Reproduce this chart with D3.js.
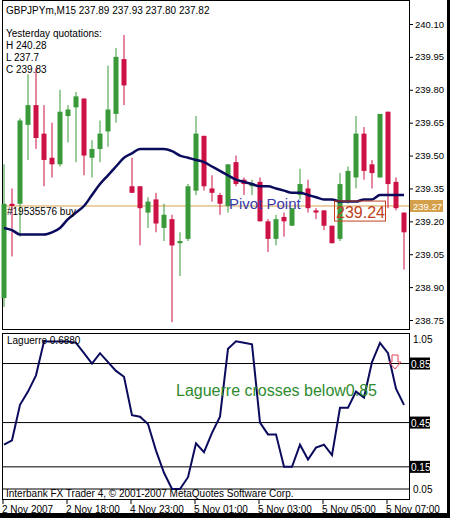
<!DOCTYPE html>
<html><head><meta charset="utf-8">
<script src="https://cdn.jsdelivr.net/npm/d3@7"></script>
<style>body{margin:0;background:#fff}text{font-family:"Liberation Sans",Arial,sans-serif}</style>
</head><body>
<script>
// candles: open, high, low, close
const opens  = [238.85,239.28,239.28,239.64,239.73,239.60,239.49,239.46,239.68,239.72,239.76,239.49,239.53,239.61,239.69,239.94,239.36,239.36,239.24,239.30,239.17,239.21,239.10,239.12,239.34,239.59,239.35,239.32,239.27,239.47,239.39,239.36,239.38,239.20,239.12,239.22,239.18,239.32,239.35,239.25,239.25,239.18,239.12,239.29,239.40,239.60,239.46,239.40,239.70,239.38,239.24];
const highs  = [239.46,239.35,239.67,239.87,239.90,239.73,239.65,239.80,239.73,239.79,239.76,239.57,239.66,239.91,239.99,240.05,239.49,239.36,239.31,239.33,239.28,239.23,239.15,239.37,239.68,239.59,239.41,239.33,239.46,239.50,239.40,239.39,239.40,239.21,239.23,239.24,239.26,239.44,239.39,239.26,239.25,239.18,239.42,239.45,239.68,239.63,239.48,239.69,239.70,239.40,239.24];
const lows   = [238.81,239.04,239.13,239.48,239.53,239.36,239.40,239.45,239.56,239.47,239.41,239.40,239.47,239.54,239.65,239.73,239.33,239.09,239.17,239.15,239.11,238.74,238.95,239.11,239.32,239.34,239.29,239.23,239.24,239.36,239.32,239.32,239.20,239.06,239.09,239.13,239.18,239.30,239.24,239.21,239.16,239.10,239.11,239.28,239.35,239.39,239.35,239.40,239.26,239.25,238.98];
const closes = [239.28,239.27,239.66,239.73,239.58,239.48,239.46,239.70,239.71,239.77,239.50,239.53,239.60,239.71,239.95,239.82,239.33,239.26,239.29,239.19,239.23,239.09,239.11,239.36,239.60,239.36,239.33,239.28,239.46,239.37,239.37,239.37,239.20,239.12,239.21,239.20,239.26,239.37,239.26,239.24,239.18,239.10,239.37,239.43,239.60,239.43,239.42,239.69,239.37,239.26,239.15];
const maValues = [239.17,239.16,239.14,239.14,239.14,239.14,239.15,239.17,239.21,239.24,239.27,239.32,239.37,239.41,239.45,239.49,239.51,239.53,239.53,239.53,239.53,239.52,239.50,239.49,239.48,239.47,239.45,239.43,239.41,239.39,239.38,239.37,239.36,239.36,239.35,239.34,239.33,239.33,239.32,239.31,239.30,239.30,239.29,239.29,239.29,239.30,239.30,239.32,239.32,239.32,239.32];
const laguerre = [0.30,0.33,0.57,0.66,0.77,1.00,1.00,1.00,1.00,0.99,0.92,0.85,0.92,0.86,0.80,0.76,0.50,0.49,0.44,0.26,0.11,0.00,0.00,0.08,0.31,0.25,0.38,0.49,0.95,1.00,0.99,0.98,0.45,0.37,0.37,0.15,0.15,0.30,0.20,0.28,0.30,0.23,0.55,0.55,0.66,0.62,0.86,0.99,0.92,0.68,0.57];
const priceTicks = [240.10,239.95,239.80,239.65,239.50,239.35,239.20,239.05,238.90,238.75];
const lagLevels = [0.85,0.45,0.15];
const timeLabels = ["2 Nov 2007","2 Nov 18:00","4 Nov 23:00","5 Nov 01:00","5 Nov 03:00","5 Nov 05:00","5 Nov 07:00"];
const timeIdx = [0,8,16,24,32,40,48];
const currentPrice = 239.27, pivot = 239.24;

const W = 450, H = 518, plotR = 409;
const svg = d3.select("body").append("svg").attr("width", W).attr("height", H);
svg.append("rect").attr("width", W).attr("height", H).attr("fill", "#fff");

const x = d3.scaleLinear().domain([0, 50]).range([4, 404]);
const y = d3.scaleLinear().domain([238.75, 240.10]).range([320, 24]);
const yl = d3.scaleLinear().domain([0, 1.05]).range([489, 334]);

// frames
svg.append("rect").attr("x", 2.5).attr("y", 0.5).attr("width", plotR - 2).attr("height", 329).attr("fill", "none").attr("stroke", "#000");
svg.append("rect").attr("x", 2.5).attr("y", 333.5).attr("width", plotR - 2).attr("height", 166).attr("fill", "none").attr("stroke", "#000");
svg.append("rect").attr("x", 447).attr("y", 0).attr("width", 3).attr("height", H).attr("fill", "#000");
svg.append("rect").attr("x", 0).attr("y", 513).attr("width", W).attr("height", 5).attr("fill", "#000");

// current price line
svg.append("line").attr("x1", 3).attr("x2", plotR).attr("y1", y(currentPrice)).attr("y2", y(currentPrice))
  .attr("stroke", "#d4a04a").attr("stroke-width", 1);

// candles
const cw = 5;
const up = (i) => closes[i] >= opens[i];
const cg = svg.append("g");
d3.range(opens.length).forEach(i => {
  const col = up(i) ? "#3a9a3a" : "#cc1144";
  cg.append("line").attr("x1", x(i)).attr("x2", x(i)).attr("y1", y(highs[i])).attr("y2", y(lows[i])).attr("stroke", col);
  const t = y(Math.max(opens[i], closes[i])), b = y(Math.min(opens[i], closes[i]));
  cg.append("rect").attr("x", x(i) - cw / 2).attr("y", t).attr("width", cw).attr("height", Math.max(2, b - t)).attr("fill", col);
});

// moving average
svg.append("path").datum(maValues)
  .attr("d", d3.line().x((d, i) => x(i)).y(d => y(d)).curve(d3.curveMonotoneX))
  .attr("fill", "none").attr("stroke", "#0b0b5e").attr("stroke-width", 2.5);

// price axis
const pa = svg.append("g").attr("transform", `translate(${plotR},0)`)
  .call(d3.axisRight(y).tickValues(priceTicks).tickSize(4).tickFormat(d3.format(".2f")));
pa.select(".domain").remove();
pa.selectAll("text").attr("font-size", 9.5).attr("x", 6).style("font-family", "Liberation Sans");
svg.append("rect").attr("x", plotR + 1).attr("y", y(currentPrice) - 6).attr("width", 33).attr("height", 12).attr("fill", "#d4a04a");
svg.append("text").attr("x", plotR + 4).attr("y", y(currentPrice) + 4).attr("font-size", 9.5).attr("fill", "#fff").text(d3.format(".2f")(currentPrice));

// texts on main pane
const t9 = (tx, ty, s, size = 10, fill = "#000") => svg.append("text").attr("x", tx).attr("y", ty).attr("font-size", size).attr("fill", fill).text(s);
t9(6, 14, "GBPJPYm,M15  237.89 237.93 237.80 237.82");
t9(6, 37, "Yesterday quotations:");
t9(6, 49, "H 240.28");
t9(6, 61, "L 237.7");
t9(6, 73, "C 239.83");
t9(7, 215, "#19535576 buy");
t9(229, 209, "Pivot Point", 15, "#3838a8");
svg.append("rect").attr("x", 334.5).attr("y", y(pivot) - 11.5).attr("width", 51).attr("height", 20).attr("fill", "none").attr("stroke", "#c04020");
t9(336, y(pivot) + 5, d3.format(".2f")(pivot), 16, "#c04020");

// laguerre pane
lagLevels.concat([0]).forEach(v => svg.append("line").attr("x1", 3).attr("x2", plotR).attr("y1", yl(v)).attr("y2", yl(v)).attr("stroke", "#000"));
svg.append("path").datum(laguerre)
  .attr("d", d3.line().x((d, i) => x(i)).y(d => yl(d)))
  .attr("fill", "none").attr("stroke", "#0b0b5e").attr("stroke-width", 2);
t9(plotR + 4, yl(1.05) + 9, "1.05");
lagLevels.forEach(v => {
  svg.append("rect").attr("x", plotR + 1).attr("y", yl(v) - 6).attr("width", 20).attr("height", 12).attr("fill", "#000");
  t9(plotR + 2, yl(v) + 4, d3.format(".2f")(v)).attr("fill", "#fff");
});
t9(plotR + 4, yl(0) + 4, "0.05");
t9(7, 344, "Laguerre 0.6880");
t9(176, 396, "Laguerre crosses below0.85", 16, "#2e8b2e");
t9(6, 497, "Interbank FX Trader 4, © 2001-2007 MetaQuotes Software Corp.", 10);
// sell arrow
const ax = 395, ay = 355;
svg.append("path").attr("d", `M${ax - 3},${ay} h6 v7 h3 l-6,7 l-6,-7 h3 z`).attr("fill", "none").attr("stroke", "#e04050");

// time axis
const ta = svg.append("g").attr("transform", "translate(0,500)");
timeIdx.forEach((ix, k) => {
  ta.append("line").attr("x1", x(ix) - 1).attr("x2", x(ix) - 1).attr("y1", 0).attr("y2", 4).attr("stroke", "#000");
  ta.append("text").attr("x", x(ix) - 2).attr("y", 13).attr("font-size", 10).text(timeLabels[k]);
});
</script>
</body></html>
